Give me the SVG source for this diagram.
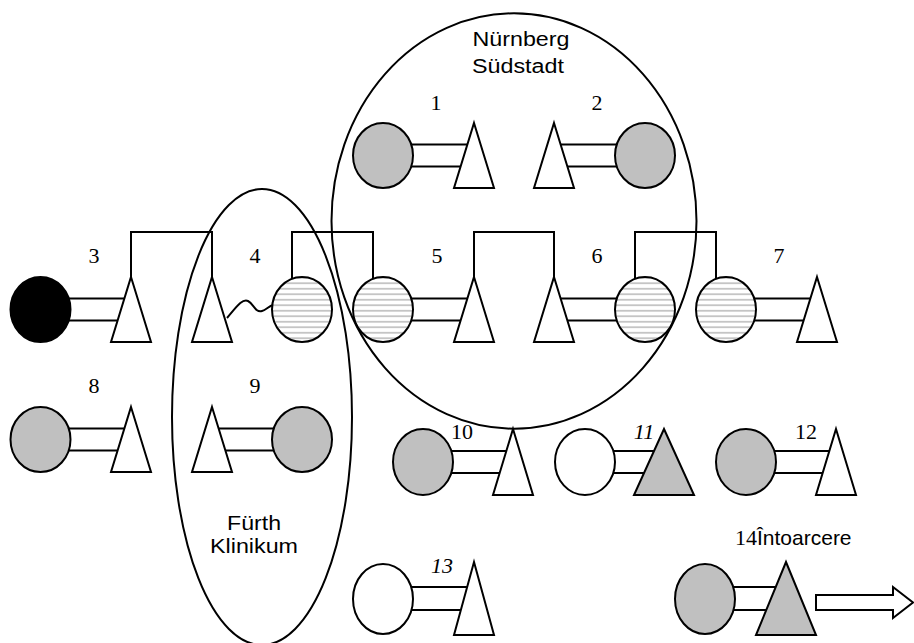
<svg xmlns="http://www.w3.org/2000/svg" width="914" height="643" viewBox="0 0 914 643">
  <defs>
    <pattern id="hstripes" patternUnits="userSpaceOnUse" width="10" height="5.5">
      <rect width="10" height="5.5" fill="#ffffff"/>
      <line x1="0" y1="2.75" x2="10" y2="2.75" stroke="#bdbdbd" stroke-width="1.6"/>
    </pattern>
  </defs>
  <style>
    .ln { fill: none; stroke: #000; stroke-width: 2; }
    .tri { fill: #fff; stroke: #000; stroke-width: 2; stroke-linejoin: miter; }
    .tri-g { fill: #c0c0c0; stroke: #000; stroke-width: 2; }
    .c-w { fill: #fff; stroke: #000; stroke-width: 2; }
    .c-g { fill: #c0c0c0; stroke: #000; stroke-width: 2; }
    .c-b { fill: #000; stroke: #000; stroke-width: 2; }
    .c-s { fill: url(#hstripes); stroke: #000; stroke-width: 2; }
    .num { font-family: "Liberation Serif", "Times New Roman", serif; font-size: 22px; fill: #000; text-anchor: middle; }
    .num-i { font-style: italic; }
    .lbl { font-family: "Liberation Sans", Arial, sans-serif; font-size: 20px; fill: #000; text-anchor: middle; }
  </style>
  <rect width="914" height="643" fill="#fff"/>

  <!-- connectors: partner links, sibling brackets, wavy link -->
  <g id="connectors" class="ln">
    <!-- row 1 -->
    <path d="M411 144.5 H467.4 M411 166.5 H460.6"/>
    <path d="M560.6 144.5 H616.8 M567.4 166.5 H616.8"/>
    <!-- row 2 -->
    <path d="M68.7 298.5 H124.4 M68.7 320.5 H117.6"/>
    <path d="M411.2 298.5 H467.4 M411.2 320.5 H460.6"/>
    <path d="M560.6 298.5 H616.8 M567.4 320.5 H616.8"/>
    <path d="M754.2 298.5 H810.4 M754.2 320.5 H803.6"/>
    <path d="M131 277 V232 H212 V277"/>
    <path d="M292 279 V232 H373 V279"/>
    <path d="M474 277 V232 H554 V277"/>
    <path d="M635 279 V232 H716 V279"/>
    <path d="M227 318 C235 309 242 298 248 301 C254 304 255 313 262 311 C266 310 269 306 273 305"/>
    <!-- row 3 -->
    <path d="M68.7 428.5 H124.4 M68.7 450.5 H117.6"/>
    <path d="M218.6 428.5 H273.8 M225.4 450.5 H273.8"/>
    <!-- row 4 -->
    <path d="M451.3 451 H506.3 M451.3 473 H499.7"/>
    <path d="M613.3 451 H654 M613.3 473 H644"/>
    <path d="M774.3 451 H829.3 M774.3 473 H822.7"/>
    <!-- row 5 -->
    <path d="M411.2 587 H467.2 M411.2 610 H460.8"/>
    <path d="M733.2 587 H775.7 M733.2 610 H766.3"/>
  </g>

  <g id="node-1">
    <ellipse class="c-g" cx="383" cy="155.5" rx="30" ry="32.5"/>
    <polygon class="tri" points="474,123 494,188 454,188"/>
    <text class="num" x="436" y="110">1</text>
  </g>
  <g id="node-2">
    <polygon class="tri" points="554,123 574,188 534,188"/>
    <ellipse class="c-g" cx="645" cy="155.5" rx="30" ry="32.5"/>
    <text class="num" x="597" y="110">2</text>
  </g>
  <g id="node-3">
    <ellipse class="c-b" cx="40.5" cy="309.5" rx="30" ry="32.5"/>
    <polygon class="tri" points="131,277 151,342 111,342"/>
    <text class="num" x="94" y="263">3</text>
  </g>
  <g id="node-4">
    <polygon class="tri" points="212,277 232,342 192,342"/>
    <ellipse class="c-s" cx="302" cy="309.5" rx="30" ry="32.5"/>
    <text class="num" x="255" y="263">4</text>
  </g>
  <g id="node-5">
    <ellipse class="c-s" cx="383" cy="309.5" rx="30" ry="32.5"/>
    <polygon class="tri" points="474,277 494,342 454,342"/>
    <text class="num" x="437" y="263">5</text>
  </g>
  <g id="node-6">
    <polygon class="tri" points="554,277 574,342 534,342"/>
    <ellipse class="c-s" cx="645" cy="309.5" rx="30" ry="32.5"/>
    <text class="num" x="597" y="263">6</text>
  </g>
  <g id="node-7">
    <ellipse class="c-s" cx="726" cy="309.5" rx="30" ry="32.5"/>
    <polygon class="tri" points="817,277 837,342 797,342"/>
    <text class="num" x="779" y="263">7</text>
  </g>
  <g id="node-8">
    <ellipse class="c-g" cx="40.5" cy="439.5" rx="30" ry="32.5"/>
    <polygon class="tri" points="131,407 151,472 111,472"/>
    <text class="num" x="94" y="393">8</text>
  </g>
  <g id="node-9">
    <polygon class="tri" points="212,407 232,472 192,472"/>
    <ellipse class="c-g" cx="302" cy="439.5" rx="30" ry="32.5"/>
    <text class="num" x="255" y="393">9</text>
  </g>
  <g id="node-10">
    <ellipse class="c-g" cx="423" cy="462" rx="30" ry="33"/>
    <polygon class="tri" points="513,429 533,495 493,495"/>
    <text class="num" x="462" y="439">10</text>
  </g>
  <g id="node-11">
    <ellipse class="c-w" cx="585" cy="462" rx="30" ry="33"/>
    <polygon class="tri-g" points="664,429 694,495 634,495"/>
    <text class="num num-i" x="644" y="439">11</text>
  </g>
  <g id="node-12">
    <ellipse class="c-g" cx="746" cy="462" rx="30" ry="33"/>
    <polygon class="tri" points="836,429 856,495 816,495"/>
    <text class="num" x="806" y="439">12</text>
  </g>
  <g id="node-13">
    <ellipse class="c-w" cx="383" cy="599" rx="30" ry="35"/>
    <polygon class="tri" points="474,562 494,635 454,635"/>
    <text class="num num-i" x="442" y="573">13</text>
  </g>
  <g id="node-14">
    <ellipse class="c-g" cx="705" cy="599" rx="30" ry="35"/>
    <polygon class="tri-g" points="786,562 816,635 756,635"/>
    <text x="735" y="545"><tspan font-family="Liberation Serif, Times New Roman, serif" font-size="22">14</tspan><tspan font-family="Liberation Sans, Arial, sans-serif" font-size="21">Întoarcere</tspan></text>
    <path class="tri" d="M816 595 H893 V587 L913 602.5 L893 618 V610 H816 Z"/>
  </g>

  <!-- location regions -->
  <g id="region-nuernberg">
    <ellipse class="ln" cx="514" cy="221" rx="182.5" ry="207.7"/>
    <text class="lbl" x="521" y="46" textLength="97" lengthAdjust="spacingAndGlyphs">Nürnberg</text>
    <text class="lbl" x="518" y="73" textLength="92" lengthAdjust="spacingAndGlyphs">Südstadt</text>
  </g>
  <g id="region-fuerth">
    <ellipse class="ln" cx="262" cy="417" rx="90" ry="228"/>
    <text class="lbl" x="254" y="530" textLength="54" lengthAdjust="spacingAndGlyphs">Fürth</text>
    <text class="lbl" x="254" y="553" textLength="88" lengthAdjust="spacingAndGlyphs">Klinikum</text>
  </g>
</svg>
